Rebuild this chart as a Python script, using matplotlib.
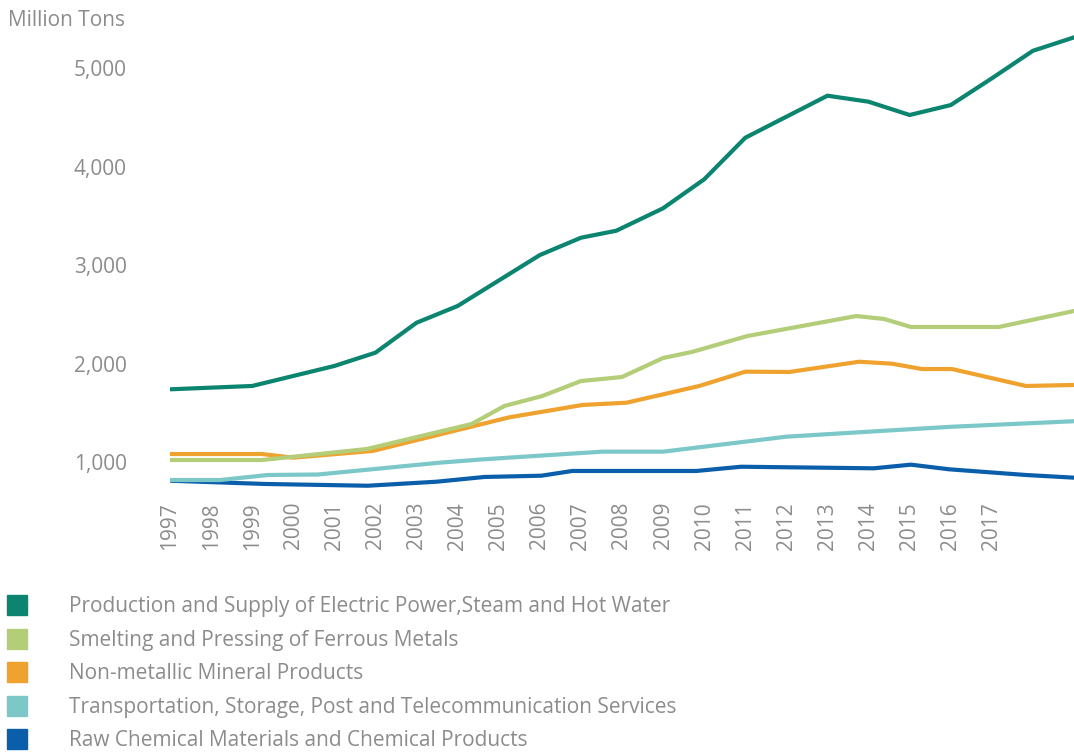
import matplotlib
matplotlib.use("Agg")
import matplotlib.pyplot as plt
from matplotlib.lines import Line2D
from matplotlib.ticker import FuncFormatter

plt.rcParams["font.family"] = ["Open Sans", "DejaVu Sans"]

# values (million tons), x in years
power_x = [1997, 1999, 2001, 2002, 2003, 2004, 2006, 2007, 2007.86, 2009,
           2010, 2011, 2013, 2014, 2015, 2016, 2017, 2018, 2019]
power_y = [1738, 1772, 1975, 2110, 2414, 2584, 3101, 3277, 3348, 3576,
           3870, 4292, 4719, 4658, 4523, 4624, 4895, 5175, 5311]

ferrous_x = [1997, 1999.24, 2001.79, 2004.34, 2005.14, 2006.06, 2007, 2008,
             2009, 2009.7, 2011.05, 2013.7, 2014.38, 2015.03, 2017.17, 2019]
ferrous_y = [1020, 1020, 1132, 1386, 1569, 1670, 1822, 1863,
             2056, 2117, 2279, 2482, 2452, 2371, 2371, 2533]

mineral_x = [1997, 1999.24, 2000, 2001.93, 2005.26, 2007.04, 2008.11, 2009,
             2009.88, 2011, 2012.07, 2013.77, 2014.57, 2015.3, 2016.03, 2017.83, 2019]
mineral_y = [1081, 1081, 1044, 1112, 1454, 1579, 1602, 1687,
             1772, 1917, 1914, 2018, 1998, 1944, 1944, 1772, 1782]

transport_x = [1997, 1998.22, 1999.38, 2000.6, 2003.56, 2004.61, 2007.52,
               2009, 2012, 2014.01, 2016.03, 2019]
transport_y = [817, 817, 868, 873, 993, 1027, 1105, 1105, 1257, 1308, 1358, 1414]

chemical_x = [1997, 1999.31, 2001.81, 2003.49, 2004.65, 2006.04, 2006.79,
              2009.81, 2010.9, 2014.13, 2015.03, 2015.96, 2017.83, 2019]
chemical_y = [810, 777, 759, 800, 848, 861, 909, 909, 952, 936, 973, 926, 868, 841]

labels = [
    "Production and Supply of Electric Power,Steam and Hot Water",
    "Smelting and Pressing of Ferrous Metals",
    "Non-metallic Mineral Products",
    "Transportation, Storage, Post and Telecommunication Services",
    "Raw Chemical Materials and Chemical Products",
]
colors = ["#0b8470", "#b3cd78", "#f0a22f", "#7cc8c9", "#0b5faa"]
series = [(power_x, power_y), (ferrous_x, ferrous_y), (mineral_x, mineral_y),
          (transport_x, transport_y), (chemical_x, chemical_y)]

year_ticks = list(range(1997, 2018))

grey = "#8c8c8c"

fig = plt.figure(figsize=(10.74, 7.53), dpi=100)
ax = fig.add_axes([170 / 1074, 1 - 495 / 753, 904 / 1074, 465 / 753])

# draw bottom series first so the first legend entry ends on top
for (xs, ys), c in reversed(list(zip(series, colors))):
    ax.plot(xs, ys, color=c, lw=3, solid_joinstyle="miter")

ax.set_xlim(1997, 2019)
ax.set_ylim(665, 5386)
ax.set_yticks([1000, 2000, 3000, 4000, 5000])
ax.yaxis.set_major_formatter(FuncFormatter(lambda v, p: f"{v:,.0f}"))
ax.set_xticks(year_ticks)
ax.set_xticklabels([str(y) for y in year_ticks], rotation=90)

ax.tick_params(axis="y", length=0, pad=31, labelsize=15, labelcolor=grey)
ax.tick_params(axis="x", length=0, pad=5, labelsize=15, labelcolor=grey)
for s in ax.spines.values():
    s.set_visible(False)

fig.text(8 / 1074, 1 - 20 / 753, "Million Tons", fontsize=15, color=grey,
         ha="left", va="center")

handles = [Line2D([], [], marker="s", ls="", color=c, markersize=14)
           for c in colors]
fig.legend(handles, labels, loc="upper left",
           bbox_to_anchor=(-3 / 1074, 1 - 588 / 753),
           frameon=False, fontsize=15, labelcolor=grey,
           handlelength=1.1, handletextpad=1.95, labelspacing=0.6,
           borderaxespad=0)

fig.savefig("out.png", dpi=100, facecolor="white")
